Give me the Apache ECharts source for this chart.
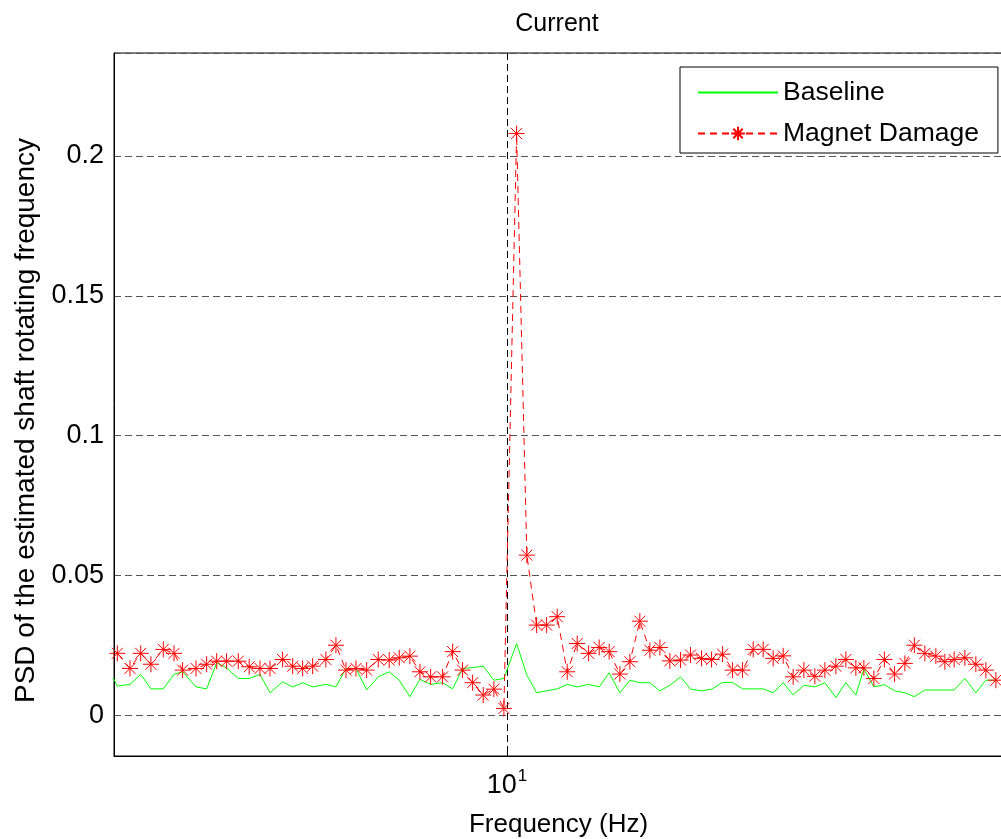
<!DOCTYPE html>
<html><head><meta charset="utf-8">
<script src="https://cdn.jsdelivr.net/npm/echarts@6/dist/echarts.min.js"></script>
<style>html,body{margin:0;padding:0;background:#fff;overflow:hidden}#c{width:1001px;height:839px}</style>
</head><body><div id="c"></div>
<script>
// Frequencies (Hz) (log-scaled x axis)
const frequency = [5.945, 6.026, 6.126, 6.212, 6.295, 6.397, 6.487, 6.560, 6.675, 6.768, 6.857,
  6.946, 7.052, 7.153, 7.254, 7.349, 7.471, 7.569, 7.668, 7.768, 7.903,
  8.007, 8.112, 8.218, 8.333, 8.460, 8.581, 8.694, 8.815, 8.931, 9.056,
  9.198, 9.319, 9.440, 9.564, 9.697, 9.832, 9.961, 10.127, 10.263, 10.394,
  10.530, 10.676, 10.816, 10.957, 11.121, 11.275, 11.422, 11.582, 11.734, 11.887,
  12.043, 12.201, 12.360, 12.533, 12.697, 12.880, 13.049, 13.237, 13.410, 13.585,
  13.774, 13.954, 14.137, 14.322, 14.509, 14.712, 14.924, 15.120, 15.337, 15.538,
  15.741, 15.906, 16.114, 16.336, 16.554, 16.777, 16.985, 17.219, 17.467, 17.672,
  17.887, 18.138, 18.399, 18.640, 18.884];
const baseline = [0.0180, 0.0105, 0.0111, 0.0147, 0.0095, 0.0095, 0.0147, 0.0156, 0.0102, 0.0095, 0.0188,
  0.0170, 0.0132, 0.0132, 0.0147, 0.0081, 0.0120, 0.0102, 0.0117, 0.0102, 0.0111,
  0.0102, 0.0168, 0.0168, 0.0091, 0.0138, 0.0156, 0.0126, 0.0067, 0.0129, 0.0111,
  0.0117, 0.0095, 0.0168, 0.0171, 0.0176, 0.0126, 0.0132, 0.0257, 0.0144, 0.0081,
  0.0088, 0.0095, 0.0111, 0.0102, 0.0111, 0.0102, 0.0152, 0.0081, 0.0126, 0.0117,
  0.0117, 0.0088, 0.0108, 0.0138, 0.0094, 0.0088, 0.0094, 0.0118, 0.0118, 0.0095,
  0.0095, 0.0095, 0.0081, 0.0117, 0.0073, 0.0108, 0.0102, 0.0117, 0.0064, 0.0117,
  0.0073, 0.0166, 0.0102, 0.0110, 0.0088, 0.0081, 0.0067, 0.0091, 0.0091, 0.0091,
  0.0091, 0.0132, 0.0081, 0.0126, 0.0126];
const magnetDamage = [0.0210, 0.0222, 0.0168, 0.0222, 0.0183, 0.0236, 0.0222, 0.0162, 0.0168, 0.0183, 0.0194,
  0.0194, 0.0194, 0.0174, 0.0168, 0.0168, 0.0200, 0.0176, 0.0168, 0.0176, 0.0200,
  0.0251, 0.0162, 0.0168, 0.0162, 0.0200, 0.0198, 0.0206, 0.0212, 0.0156, 0.0138,
  0.0138, 0.0228, 0.0162, 0.0117, 0.0073, 0.0094, 0.0025, 0.2080, 0.0573, 0.0323,
  0.0323, 0.0353, 0.0156, 0.0257, 0.0222, 0.0243, 0.0228, 0.0148, 0.0192, 0.0337,
  0.0233, 0.0243, 0.0195, 0.0198, 0.0216, 0.0204, 0.0200, 0.0219, 0.0162, 0.0162,
  0.0236, 0.0236, 0.0204, 0.0213, 0.0138, 0.0162, 0.0140, 0.0162, 0.0176, 0.0200,
  0.0170, 0.0170, 0.0132, 0.0200, 0.0148, 0.0186, 0.0251, 0.0222, 0.0212, 0.0192,
  0.0200, 0.0206, 0.0183, 0.0162, 0.0126];
const yTickValues = [0, 0.05, 0.1, 0.15, 0.2];
const xTickValues = [10];
const seriesNames = ['Baseline', 'Magnet Damage'];

const FONT = '"Liberation Sans", Arial, Helvetica, sans-serif';
const star = 'path://M8,0L8,16M0,8L16,8M2.5,2.5L13.5,13.5M2.5,13.5L13.5,2.5';

const chart = echarts.init(document.getElementById('c'), null, {renderer: 'canvas'});
chart.setOption({
  animation: false,
  backgroundColor: '#fff',
  textStyle: {fontFamily: FONT},
  title: {
    text: 'Current', left: 557, top: 12, padding: 0, textAlign: 'center',
    textStyle: {fontSize: 25, fontWeight: 'normal', color: '#000', fontFamily: FONT}
  },
  grid: {left: 114, right: -2, top: 53, bottom: 83, show: true, borderColor: '#000', borderWidth: 1,
    backgroundColor: 'transparent', containLabel: false, outerBoundsMode: 'none'},
  legend: {
    orient: 'vertical', left: 680, top: 67,
    padding: [12, 19, 6, 17], itemGap: 14, itemWidth: 80, itemHeight: 17, itemTextGap: 10,
    backgroundColor: '#fff', borderColor: '#000', borderWidth: 1, borderRadius: 0,
    textStyle: {fontSize: 26.5, color: '#000', fontFamily: FONT},
    data: [
      {name: seriesNames[0], itemStyle: {opacity: 0}},
      {name: seriesNames[1]}
    ]
  },
  xAxis: {
    type: 'log', logBase: 10, min: 6, max: 19.06,
    name: 'Frequency (Hz)', nameLocation: 'middle', nameGap: 56,
    nameTextStyle: {fontSize: 26, color: '#000', fontFamily: FONT},
    axisLine: {show: true, onZero: false, lineStyle: {color: '#000', width: 1}},
    axisTick: {show: true, inside: true, length: 8, lineStyle: {color: '#000'}},
    minorTick: {show: false},
    axisLabel: {
      margin: 12, color: '#000',
      formatter: v => xTickValues.some(t => Math.abs(v - t) < 1e-6) ? '{a|10}{b|1}' : '',
      rich: {a: {fontSize: 27, fontFamily: FONT, color: '#000'}, b: {fontSize: 17, fontFamily: FONT, color: '#000', padding: [0, 0, 18, 1]}}
    },
    splitLine: {show: true, lineStyle: {color: '#000', type: [7, 4], width: 1}}
  },
  yAxis: {
    type: 'value', min: -0.0145, max: 0.2368, splitNumber: 5,
    name: 'PSD of the estimated shaft rotating frequency', nameLocation: 'middle', nameGap: 74, nameRotate: 90,
    nameTextStyle: {fontSize: 28, color: '#000', fontFamily: FONT, padding: [0, 32, 0, 0]},
    axisLine: {show: true, onZero: false, lineStyle: {color: '#000', width: 1}},
    axisTick: {show: false},
    axisLabel: {
      margin: 10, fontSize: 27, color: '#000', fontFamily: FONT,
      formatter: v => yTickValues.some(t => Math.abs(v - t) < 1e-9) ? String(+v.toFixed(2)) : ''
    },
    splitLine: {show: true, lineStyle: {color: '#555', type: [7, 4], width: 1}}
  },
  series: [
    {
      name: seriesNames[0], type: 'line', clip: true,
      data: frequency.map((f, i) => [f, baseline[i]]),
      showSymbol: false, symbol: 'none',
      lineStyle: {color: '#00ff00', width: 1},
      itemStyle: {color: '#00ff00'},
      z: 2
    },
    {
      name: seriesNames[1], type: 'line', clip: true,
      data: frequency.map((f, i) => [f, magnetDamage[i]]),
      symbol: star, symbolSize: 16, showAllSymbol: true,
      lineStyle: {color: '#ff0000', width: 1, type: [7, 5]},
      itemStyle: {color: 'rgba(255,0,0,0)', borderColor: '#ff0000', borderWidth: 1},
      z: 3
    }
  ]
});
</script></body></html>
